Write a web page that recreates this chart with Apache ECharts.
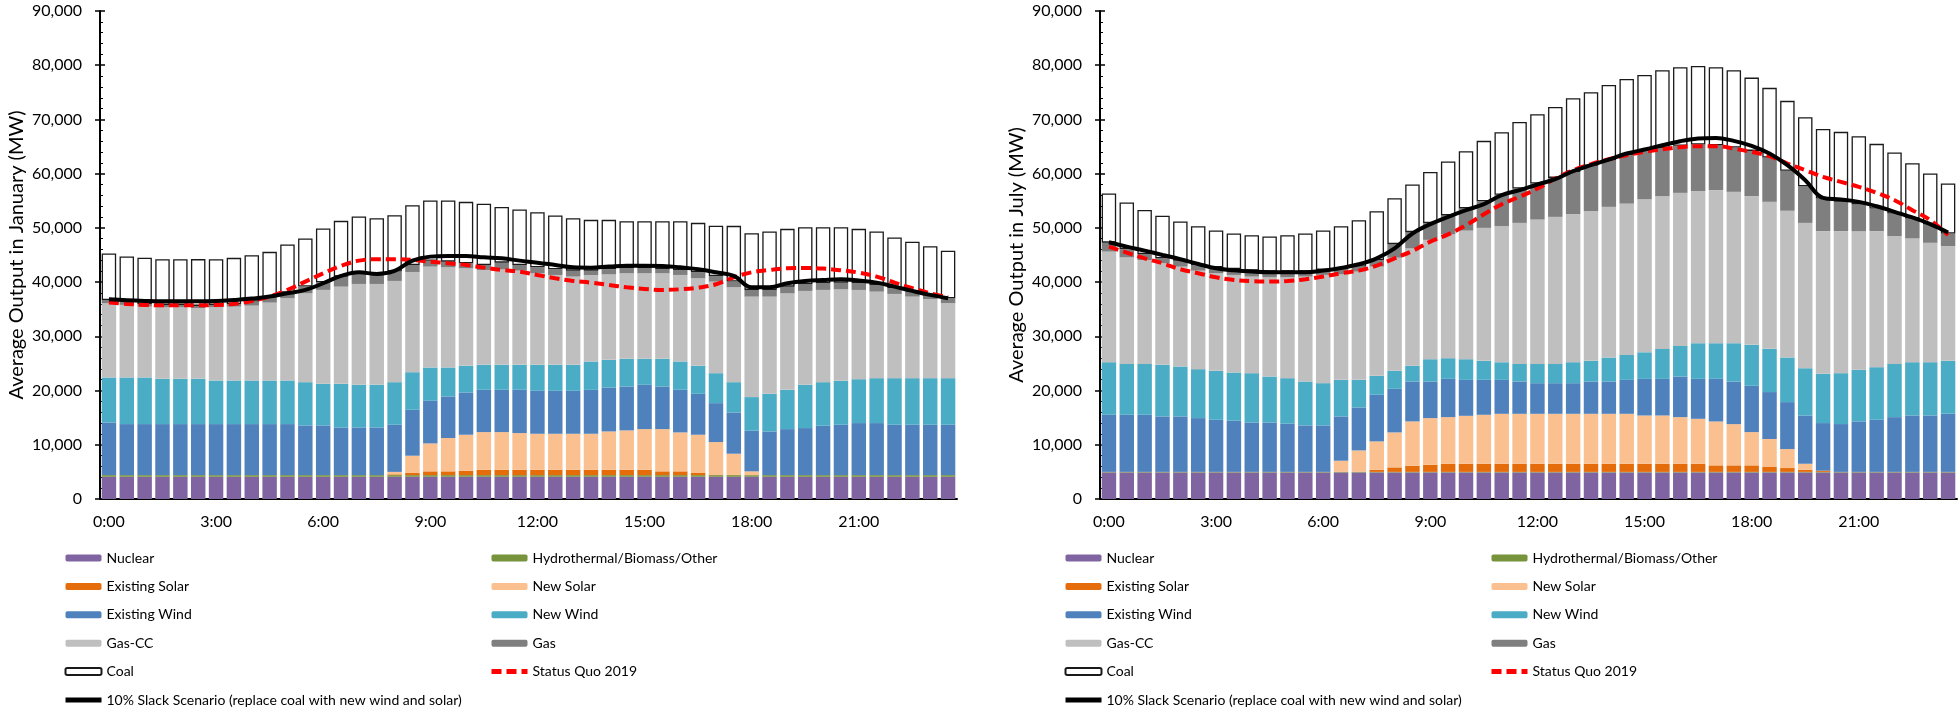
<!DOCTYPE html>
<html>
<head>
<meta charset="utf-8">
<script src="https://cdn.jsdelivr.net/npm/echarts@6/dist/echarts.min.js"></script>
<style>
html,body{margin:0;padding:0;background:#fff;}
#chart{width:1960px;height:710px;}
</style>
</head>
<body>
<div id="chart"></div>
<script>
// Half-hour categories
var times = ["0:00","0:30","1:00","1:30","2:00","2:30","3:00","3:30","4:00","4:30","5:00","5:30",
"6:00","6:30","7:00","7:30","8:00","8:30","9:00","9:30","10:00","10:30","11:00","11:30",
"12:00","12:30","13:00","13:30","14:00","14:30","15:00","15:30","16:00","16:30","17:00","17:30",
"18:00","18:30","19:00","19:30","20:00","20:30","21:00","21:30","22:00","22:30","23:00","23:30"];

var seriesNames = ["Nuclear","Hydrothermal/Biomass/Other","Existing Solar","New Solar","Existing Wind","New Wind","Gas-CC","Gas","Coal","Status Quo 2019","10% Slack Scenario (replace coal with new wind and solar)"];
var yTicks = [0,10000,20000,30000,40000,50000,60000,70000,80000,90000];

// ---------- January (MW) ----------
var nuclearJan = [4100,4100,4100,4100,4100,4100,4100,4100,4100,4100,4100,4100,4100,4100,4100,4100,4100,4100,4100,4100,4100,4100,4100,4100,4100,4100,4100,4100,4100,4100,4100,4100,4100,4100,4100,4100,4100,4100,4100,4100,4100,4100,4100,4100,4100,4100,4100,4100];
var hydroJan = [300,300,300,300,300,300,300,300,300,300,300,300,300,300,300,300,300,300,300,300,300,300,300,300,300,300,300,300,300,300,300,300,300,300,300,300,300,300,300,300,300,300,300,300,300,300,300,300];
var exSolarJan = [0,0,0,0,0,0,0,0,0,0,0,0,0,0,0,0,150,390,700,700,820,1000,1000,1000,1000,1000,1000,1000,1000,1000,1000,700,700,400,100,50,0,0,0,0,0,0,0,0,0,0,0,0];
var newSolarJan = [0,0,0,0,0,0,0,0,0,0,0,0,0,0,0,0,450,3190,5150,6140,6630,6940,6940,6760,6630,6630,6630,6630,7060,7250,7490,7790,7180,7050,6000,3900,700,0,0,0,0,0,0,0,0,0,0,0];
var exWindJan = [9720,9415,9415,9415,9415,9415,9415,9415,9415,9415,9415,9170,9170,8800,8800,8800,8690,8470,7860,7675,7800,7800,7800,7980,7920,7920,7920,8100,8100,8100,8170,7860,7860,7550,7180,7610,7490,8060,8490,8680,9110,9290,9600,9600,9290,9290,9290,9290];
var newWindJan = [8290,8600,8600,8350,8350,8350,8040,8040,8040,8040,8040,7980,7680,8040,7860,7860,7860,6940,6140,5340,4910,4600,4600,4600,4790,4790,4790,5220,5100,5100,4790,5100,5220,5160,5530,5590,6200,6940,7245,7980,8040,8100,8100,8290,8600,8600,8600,8600];
var gasCCJan = [13690,13385,13080,13200,13200,13020,13510,13630,13815,14370,15170,16390,17315,17930,18600,18600,18670,18480,18600,18480,17990,17500,17620,17375,16885,16580,16270,15960,15780,15780,15780,15780,15960,16150,16885,17500,18540,17930,17800,17315,17010,16885,16455,15960,15530,15040,14550,13815];
var gasJan = [610,610,490,430,430,430,430,490,740,920,1040,1230,1410,1840,1780,1780,1720,1290,1100,1040,920,920,1230,1040,1100,1040,1100,800,920,920,920,740,920,1100,1040,1040,1230,1230,1230,1230,1230,1230,1230,1230,1040,920,800,920];
var coalJan = [8570,8320,8500,8440,8440,8630,8440,8500,8560,8440,8880,8875,9920,10290,10660,10360,10410,11025,11090,11275,11330,11280,10280,10230,10170,9930,9685,9370,9125,8690,8690,8870,9000,9120,9250,10290,10470,10780,10655,10525,10340,10220,10040,9860,9370,9180,8990,8750];
var statusQuoJan = [36230,35980,35800,35730,35730,35730,35800,35980,36530,37330,38560,40090,41630,42980,43960,44210,44210,44085,43770,43470,43160,42670,42240,41940,41320,40710,40220,39910,39480,39050,38740,38560,38680,38990,39600,40890,41810,42240,42550,42610,42490,42180,41750,41020,39910,38870,37950,37210];
var slackJan = [36840,36650,36530,36470,36470,36470,36530,36720,36960,37330,37945,38560,39790,41140,41810,41500,42060,43960,44700,44820,44820,44580,44390,43960,43590,43160,42730,42670,42860,43040,43040,42980,42730,42370,41810,41140,39050,39050,39790,40220,40400,40520,40280,39910,39170,38375,37640,37020];

// ---------- July (MW) ----------
var nuclearJul = [4900,4900,4900,4900,4900,4900,4900,4900,4900,4900,4900,4900,4900,4900,4900,4900,4900,4900,4900,4900,4900,4900,4900,4900,4900,4900,4900,4900,4900,4900,4900,4900,4900,4900,4900,4900,4900,4900,4900,4900,4900,4900,4900,4900,4900,4900,4900,4900];
var hydroJul = [100,100,100,100,100,100,100,100,100,100,100,100,100,100,100,100,100,100,100,100,100,100,100,100,100,100,100,100,100,100,100,100,100,100,100,100,100,100,100,100,100,100,100,100,100,100,100,100];
var exSolarJul = [0,0,0,0,0,0,0,0,0,0,0,0,0,0,0,400,830,1140,1320,1500,1500,1500,1500,1500,1500,1500,1500,1500,1500,1500,1500,1500,1500,1500,1200,1200,1200,900,710,400,220,0,0,0,0,0,0,0];
var newSolarJul = [0,0,0,0,0,0,0,0,0,0,0,0,0,2060,3960,5220,6450,8170,8600,8600,8840,9030,9210,9210,9210,9210,9210,9210,9210,9210,8900,8900,8600,8290,8100,7610,6140,5160,3500,1100,0,0,0,0,0,0,0,0];
var exWindJul = [10530,10530,10530,10230,10230,9920,9610,9430,9120,9120,8880,8570,8570,8170,7920,8600,8040,7370,6750,7060,6630,6450,6260,5960,5650,5650,5650,5960,5960,6260,6750,6750,7490,7370,7860,7860,8540,8660,8660,8900,8780,8820,9310,9610,10100,10410,10410,10720];
var newWindJul = [9700,9390,9390,9520,9210,9030,9030,8900,9090,8470,8410,8100,7800,6750,5100,3500,3320,2890,4110,3810,3810,3500,3250,3250,3560,3560,3870,3810,4420,4600,4910,5530,5650,6570,6570,7060,7550,7980,8230,8720,9090,9390,9520,9700,9820,9820,9820,9760];
var gasCCJul = [20390,19650,19160,18730,18420,18170,17990,17990,17810,18300,18600,19340,19960,19460,19960,20140,20860,21640,22010,22830,23710,24520,25090,26000,26620,27110,27300,27600,27790,27910,28220,28160,28220,28040,28230,27920,27420,27110,27060,26800,26310,26190,25580,25090,23550,22820,22020,21150];
var gasJul = [1660,1470,1100,920,1100,1040,1100,1100,1100,1040,1040,920,920,920,920,1230,2500,3000,3100,3500,4100,4900,5780,6330,6630,7190,7800,8360,8600,8910,8840,8910,8670,8600,8290,8170,8350,8180,7370,6760,6020,5400,4970,4180,4180,3680,3440,2340];
var coalJul = [9060,8630,8140,7830,7220,7160,6790,6540,6540,6470,6720,7030,7280,7950,8570,9000,8480,8800,9430,9940,10540,11150,11550,12290,12780,13090,13580,13580,13890,14070,14080,14310,14500,14500,14380,14250,13520,12840,12900,12720,12840,12910,12540,11920,11240,10200,9340,9210];
var statusQuoJul = [46540,45440,44390,43470,42370,41630,40890,40400,40160,40090,40220,40520,41020,41630,42120,43040,44390,45740,47460,48800,50500,52500,54370,55730,57260,59100,60640,61750,62670,63410,64020,64510,64880,65070,65070,64630,64020,63220,61870,60640,59410,58490,57570,56460,55110,53270,51430,48660];
var slackJul = [47340,46540,45800,45010,44210,43350,42550,42180,41940,41810,41810,41810,42120,42610,43290,44390,46230,48970,50690,52040,53270,54370,56030,56960,58000,58980,60460,61560,62610,63710,64450,65250,65990,66480,66600,66050,65130,63710,61560,58800,55540,55230,54800,54000,52960,51920,50690,49150];

var FONT = 'Lato';
var colors = {
  "Nuclear": "#8064A2",
  "Hydrothermal/Biomass/Other": "#77933C",
  "Existing Solar": "#E46C0A",
  "New Solar": "#FAC090",
  "Existing Wind": "#4F81BD",
  "New Wind": "#4BACC6",
  "Gas-CC": "#BFBFBF",
  "Gas": "#7F7F7F"
};

function fmt(v){ return v === 0 ? '0' : String(v).replace(/\B(?=(\d{3})+(?!\d))/g, ','); }

function panelSeries(idx, stackId, d) {
  var barData = [d.nuclear, d.hydro, d.exSolar, d.newSolar, d.exWind, d.newWind, d.gasCC, d.gas];
  var out = [];
  for (var k = 0; k < 8; k++) {
    var nm = seriesNames[k];
    out.push({
      name: nm, type: 'bar', stack: stackId, xAxisIndex: idx, yAxisIndex: idx * 2,
      barWidth: '81%', data: barData[k],
      itemStyle: { color: colors[nm] }
    });
  }
  out.push({
    name: 'Coal', type: 'bar', stack: stackId, xAxisIndex: idx, yAxisIndex: idx * 2,
    barWidth: '81%', data: d.coal,
    itemStyle: { color: '#ffffff', borderColor: '#1a1a1a', borderWidth: 1.3 }
  });
  out.push({
    name: 'Status Quo 2019', type: 'line', xAxisIndex: idx, yAxisIndex: idx * 2,
    data: d.sq, smooth: 0.4, symbol: 'none', z: 5,
    lineStyle: { color: '#FF0000', width: 4, type: [10, 5], cap: 'butt' },
    itemStyle: { color: '#FF0000' }
  });
  out.push({
    name: seriesNames[10], type: 'line', xAxisIndex: idx, yAxisIndex: idx * 2,
    data: d.slack, smooth: 0.4, symbol: 'none', z: 6,
    lineStyle: { color: '#000000', width: 4 },
    itemStyle: { color: '#000000' }
  });
  return out;
}

var gridLefts = [100, 1100];
var yNames = ['Average Output in January (MW)', 'Average Output in July (MW)'];

var grids = [], xAxes = [], yAxes = [], legends = [];
for (var p = 0; p < 2; p++) {
  grids.push({ left: gridLefts[p], top: 11, width: 857, height: 488, containLabel: false });
  xAxes.push({
    type: 'category', gridIndex: p, data: times, boundaryGap: true,
    axisLine: { lineStyle: { color: '#000', width: 2 } },
    axisTick: { show: false },
    axisLabel: { interval: 5, color: '#000', fontFamily: FONT, fontSize: 16, margin: 15 }
  });
  yAxes.push({
    type: 'value', gridIndex: p, min: yTicks[0], max: yTicks[yTicks.length - 1], interval: 10000,
    name: yNames[p], nameLocation: 'middle', nameGap: 73,
    nameTextStyle: { color: '#000', fontFamily: FONT, fontSize: 20 },
    axisLine: { show: true, lineStyle: { color: '#000', width: 2 } },
    axisTick: { show: true, length: 5, lineStyle: { color: '#000', width: 1.5 } },
    axisLabel: { color: '#000', fontFamily: FONT, fontSize: 16, margin: 18, formatter: fmt },
    splitLine: { show: false }
  });
  yAxes.push({
    type: 'value', gridIndex: p, min: 0, max: 90000, interval: 10000, position: 'left',
    axisLine: { show: false },
    axisTick: { show: true, inside: true, length: 5, lineStyle: { color: '#000', width: 1.5 } },
    minorTick: { show: true, splitNumber: 5, length: 3, lineStyle: { color: '#000', width: 1 } },
    axisLabel: { show: false },
    splitLine: { show: false }
  });
  var legBase = { orient: 'vertical', top: 545, height: 200, itemWidth: 36, itemHeight: 7, itemGap: 12.4,
    textStyle: { color: '#000', fontFamily: FONT, fontSize: 14, lineHeight: 16 },
    lineStyle: { width: 5 },
    selectedMode: false };
  legends.push(Object.assign({}, legBase, { left: gridLefts[p] - 42,
    data: ['Nuclear', 'Existing Solar', 'Existing Wind', 'Gas-CC', 'Coal',
      { name: seriesNames[10], itemStyle: { opacity: 0 } }] }));
  legends.push(Object.assign({}, legBase, { left: gridLefts[p] + 384,
    data: ['Hydrothermal/Biomass/Other', 'New Solar', 'New Wind', 'Gas',
      { name: 'Status Quo 2019', itemStyle: { opacity: 0 } }] }));
}

var series = panelSeries(0, 'jan', {
  nuclear: nuclearJan, hydro: hydroJan, exSolar: exSolarJan, newSolar: newSolarJan,
  exWind: exWindJan, newWind: newWindJan, gasCC: gasCCJan, gas: gasJan, coal: coalJan,
  sq: statusQuoJan, slack: slackJan
}).concat(panelSeries(1, 'jul', {
  nuclear: nuclearJul, hydro: hydroJul, exSolar: exSolarJul, newSolar: newSolarJul,
  exWind: exWindJul, newWind: newWindJul, gasCC: gasCCJul, gas: gasJul, coal: coalJul,
  sq: statusQuoJul, slack: slackJul
}));

var chart = echarts.init(document.getElementById('chart'));
chart.setOption({
  animation: false,
  backgroundColor: '#ffffff',
  grid: grids, xAxis: xAxes, yAxis: yAxes, legend: legends, series: series
});
</script>
</body>
</html>
